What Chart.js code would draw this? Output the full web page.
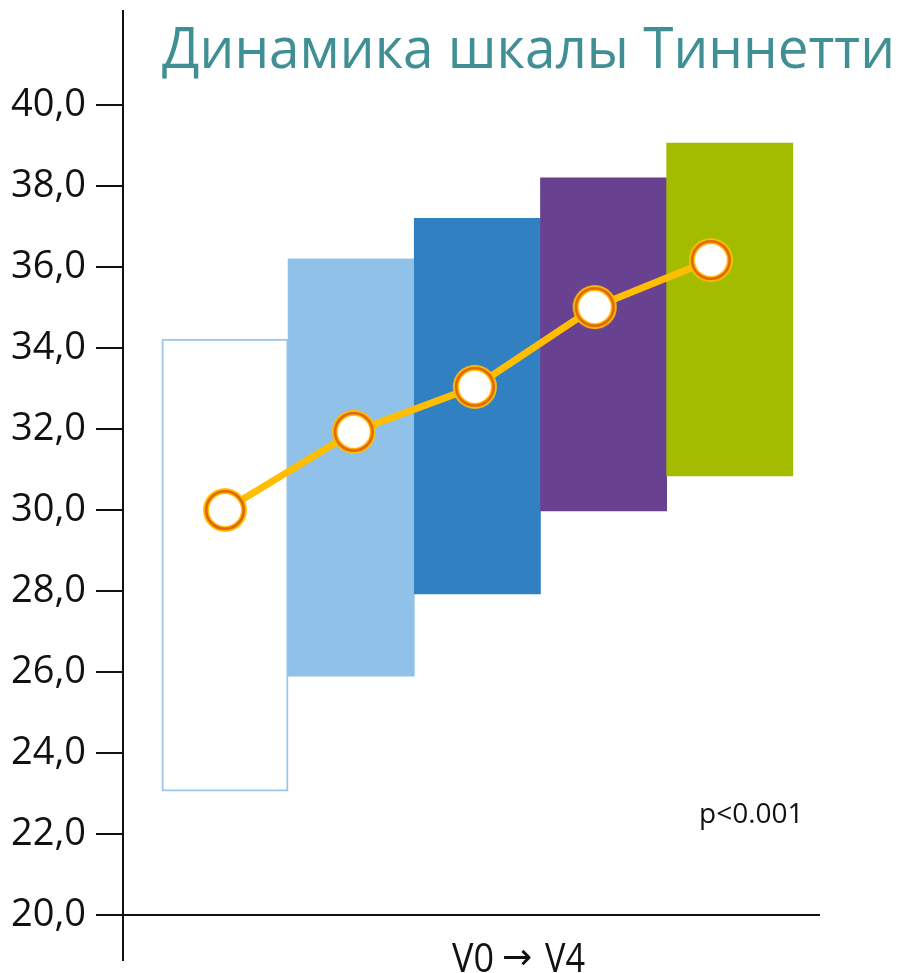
<!DOCTYPE html>
<html lang="ru">
<head>
<meta charset="utf-8">
<title>Динамика шкалы Тиннетти</title>
<script src="https://cdn.jsdelivr.net/npm/chart.js@4/dist/chart.umd.min.js"></script>
<style>
    html, body { margin: 0; padding: 0; background: #fff; }
    #chart { display: block; }
</style>
</head>
<body>
<canvas id="chart" width="902" height="973"></canvas>
<script>
// ======================= DỮ LIỆU =======================
const chartTitle = "Динамика шкалы Тиннетти";
const axisLabelParts = ["V0", "→", "V4"];
const pLabel = "p<0.001";

const visits = ["V0", "V1", "V2", "V3", "V4"];
const barX = [0, 1, 2, 3, 4];
const barLow = [23.06, 25.9, 27.93, 29.98, 30.84];
const barHigh = [34.22, 36.2, 37.2, 38.2, 39.06];

const lineX = [0, 1.02, 1.98, 2.93, 3.85];
const lineY = [30.0, 31.93, 33.04, 35.01, 36.17];

const yTickValues = [20, 22, 24, 26, 28, 30, 32, 34, 36, 38, 40];
const yTickLabels = ["20,0", "22,0", "24,0", "26,0", "28,0", "30,0", "32,0", "34,0", "36,0", "38,0", "40,0"];

const barColors = ["#ffffff", "#90c1e8", "#3181c2", "#684291", "#a3bc00"];
const barBorders = ["#9cc6e8", "#90c1e8", "#3181c2", "#684291", "#a3bc00"];

// ==== Marker: vòng vàng + viền cam + lõi trắng ====
function makeMarker() {
    const c = document.createElement("canvas");
    c.width = 46;
    c.height = 46;
    const g = c.getContext("2d");
    g.fillStyle = "#ffbf00";
    g.beginPath(); g.arc(23, 23, 22, 0, Math.PI * 2); g.fill();
    g.strokeStyle = "#e2650c";
    g.lineWidth = 2.6;
    g.beginPath(); g.arc(23, 23, 18.8, 0, Math.PI * 2); g.stroke();
    g.fillStyle = "#ffffff";
    g.beginPath(); g.arc(23, 23, 16, 0, Math.PI * 2); g.fill();
    return c;
}

// ==== Văn bản phụ: tiêu đề, p-value, nhãn trục ====
const textPlugin = {
    id: "texts",
    afterDraw(chart) {
        const ctx = chart.ctx;
        ctx.save();
        ctx.textAlign = "left";
        ctx.textBaseline = "alphabetic";

        ctx.fillStyle = "#3f8f94";
        ctx.font = '57px "Open Sans"';
        ctx.fillText(chartTitle, 162, 68, 733);

        ctx.fillStyle = "#111";
        ctx.font = '28px "Open Sans"';
        ctx.fillText(pLabel, 699, 823, 106);

        // V0 → V4 (mũi tên to hơn, dùng DejaVu Sans)
        ctx.font = '40px "Open Sans"';
        ctx.fillText(axisLabelParts[0], 452, 972, 42);
        ctx.font = '36px "DejaVu Sans"';
        ctx.fillText(axisLabelParts[1], 502, 969, 37);
        ctx.font = '40px "Open Sans"';
        ctx.fillText(axisLabelParts[2], 545, 972, 40);
        ctx.restore();
    }
};

Chart.defaults.font.family = '"Open Sans"';
Chart.defaults.color = "#111";

new Chart(document.getElementById("chart"), {
    data: {
        datasets: [
            {
                type: "line",
                order: 0,
                data: lineX.map((x, i) => ({ x: x, y: lineY[i] })),
                borderColor: "#ffbf00",
                borderWidth: 7,
                pointStyle: makeMarker(),
                pointRadius: 22,
                pointHoverRadius: 22
            },
            {
                type: "bar",
                order: 1,
                label: visits.join(" "),
                data: barX.map((x, i) => ({ x: x, y: [barLow[i], barHigh[i]] })),
                backgroundColor: barColors,
                borderColor: barBorders,
                borderWidth: [2, 0, 0, 0, 0],
                borderSkipped: false,
                barPercentage: 1,
                categoryPercentage: 1
            }
        ]
    },
    options: {
        responsive: false,
        animation: false,
        layout: {
            autoPadding: false,
            padding: { top: 11, bottom: 13, right: 82, left: 0 }
        },
        plugins: {
            legend: { display: false },
            tooltip: { enabled: false }
        },
        scales: {
            x: {
                type: "linear",
                display: false,
                offset: false,
                min: -0.808,
                max: 4.715,
                afterBuildTicks: scale => {
                    scale.ticks = barX.map(v => ({ value: v }));
                }
            },
            y: {
                type: "linear",
                min: 18.89,
                max: 42.32,
                afterBuildTicks: scale => {
                    scale.ticks = yTickValues.map(v => ({ value: v }));
                },
                afterFit: scale => {
                    scale.width = 123;
                    scale.paddingTop = 0;
                    scale.paddingBottom = 0;
                },
                border: { display: true, color: "#111", width: 2 },
                grid: {
                    drawOnChartArea: true,
                    lineWidth: 2,
                    tickLength: 27,
                    tickColor: "#111",
                    color: c => (c.tick && c.tick.value === 20 ? "#111" : "rgba(0,0,0,0)")
                },
                ticks: {
                    padding: 10,
                    font: { size: 38 },
                    color: "#111",
                    callback: v => yTickLabels[yTickValues.indexOf(v)]
                }
            }
        }
    },
    plugins: [textPlugin]
});
</script>
</body>
</html>
